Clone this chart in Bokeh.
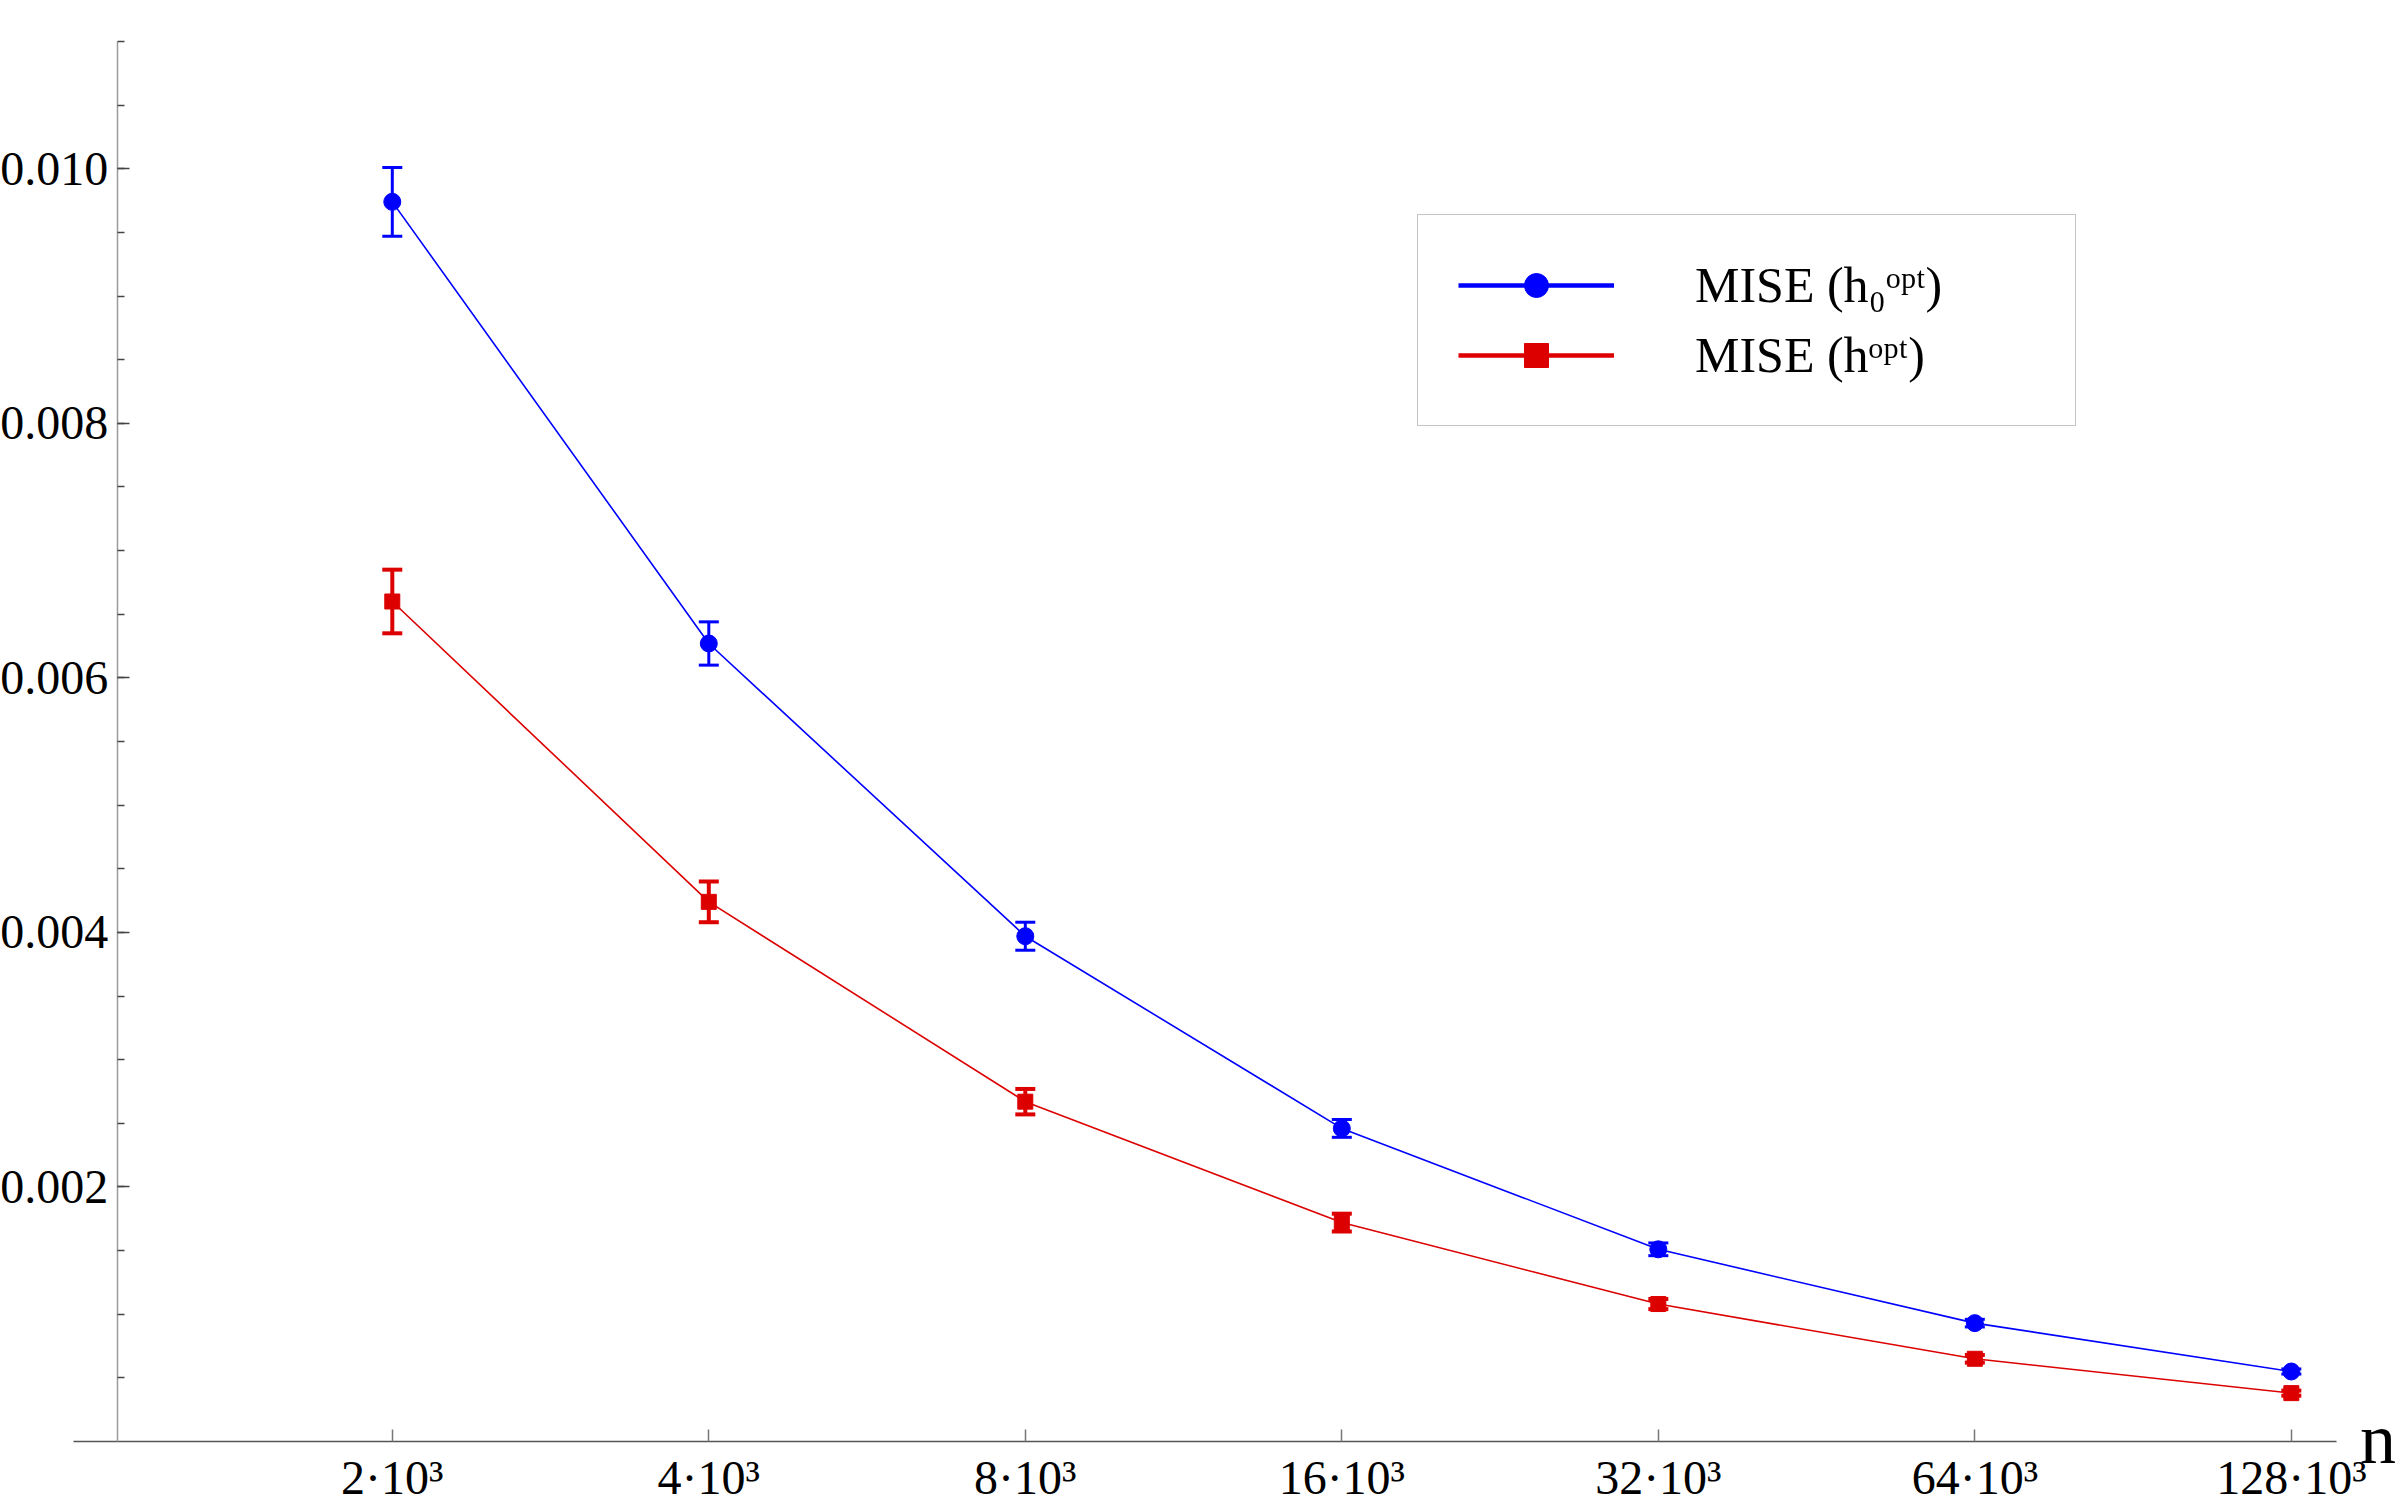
from bokeh.plotting import figure
from bokeh.models import (ColumnDataSource, FixedTicker, NumeralTickFormatter, Whisker,
                          TeeHead, Legend, LegendItem, Label, Range1d)
from bokeh.embed import file_html
from bokeh.resources import INLINE

# ---- data ----
n_values = [2000, 4000, 8000, 16000, 32000, 64000, 128000]
tick_labels = ["2·10³", "4·10³", "8·10³", "16·10³", "32·10³", "64·10³", "128·10³"]
mise_h0 = [0.00974, 0.00627, 0.00397, 0.00246, 0.00151, 0.00093, 0.00055]
err_h0 = [0.00027, 0.00017, 0.00011, 0.00007, 0.00005, 0.00003, 0.00002]
mise_h = [0.00660, 0.00424, 0.00267, 0.00172, 0.00108, 0.00065, 0.00038]
err_h = [0.00025, 0.00016, 0.00010, 0.00007, 0.00004, 0.00003, 0.00002]
y_major = [0.002, 0.004, 0.006, 0.008, 0.010]
y_minor = [0.0005 * k for k in range(1, 23)]
label_h0 = "MISE (h₀ᵒᵖᵗ)"
label_h = "MISE (hᵒᵖᵗ)"

BLUE = "#0000FF"
RED = "#DC0000"
FONT = "Liberation Serif"
NAN = float("nan")

src_b = ColumnDataSource(dict(n=n_values, y=mise_h0,
                              lo=[v - e for v, e in zip(mise_h0, err_h0)],
                              hi=[v + e for v, e in zip(mise_h0, err_h0)]))
src_r = ColumnDataSource(dict(n=n_values, y=mise_h,
                              lo=[v - e for v, e in zip(mise_h, err_h)],
                              hi=[v + e for v, e in zip(mise_h, err_h)]))

# The frame covers the whole canvas; the axes are placed at fixed locations
# and limited by their bounds, so tick labels and the "n" label are not clipped.
p = figure(frame_width=2396, frame_height=1508, x_axis_type="log",
           x_range=Range1d(848, 161150), y_range=Range1d(-0.0005264, 0.011322),
           output_backend="svg", toolbar_location=None,
           min_border_left=0, min_border_right=0, min_border_top=0,
           min_border_bottom=0)
p.grid.visible = False
p.outline_line_color = None
p.background_fill_color = "white"
p.border_fill_color = "white"

# x axis
xa = p.xaxis[0]
xa.fixed_location = 0
xa.bounds = (995, 141200)
xa.ticker = FixedTicker(ticks=n_values, minor_ticks=[])
xa.major_label_overrides = {n: t for n, t in zip(n_values, tick_labels)}
xa.axis_line_color = "#555555"
xa.axis_line_width = 1.5
xa.major_tick_line_color = "#777777"
xa.major_tick_line_width = 1.5
xa.major_tick_in = 12
xa.major_tick_out = 0
xa.minor_tick_line_color = None
xa.major_label_text_font = FONT
xa.major_label_text_font_size = "48px"
xa.major_label_text_color = "black"
xa.major_label_standoff = 9

# y axis
ya = p.yaxis[0]
ya.fixed_location = 1095
ya.bounds = (0, 0.011)
ya.ticker = FixedTicker(ticks=y_major, minor_ticks=y_minor)
ya.formatter = NumeralTickFormatter(format="0.000")
ya.axis_line_color = "#9a9a9a"
ya.axis_line_width = 1.5
ya.major_tick_line_color = "#444444"
ya.major_tick_line_width = 1.5
ya.minor_tick_line_color = "#444444"
ya.minor_tick_line_width = 1.5
ya.major_tick_in = 12
ya.major_tick_out = 0
ya.minor_tick_in = 7
ya.minor_tick_out = 0
ya.major_label_text_font = FONT
ya.major_label_text_font_size = "48px"
ya.major_label_text_color = "black"
ya.major_label_standoff = 9

# series
p.line("n", "y", source=src_b, line_color=BLUE, line_width=1.6)
p.line("n", "y", source=src_r, line_color=RED, line_width=1.6)

wb = Whisker(base="n", upper="hi", lower="lo", source=src_b, dimension="height",
             line_color=BLUE, line_width=3,
             upper_head=TeeHead(size=20, line_color=BLUE, line_width=3),
             lower_head=TeeHead(size=20, line_color=BLUE, line_width=3))
wr = Whisker(base="n", upper="hi", lower="lo", source=src_r, dimension="height",
             line_color=RED, line_width=4,
             upper_head=TeeHead(size=20, line_color=RED, line_width=4),
             lower_head=TeeHead(size=20, line_color=RED, line_width=4))
p.add_layout(wb)
p.add_layout(wr)

p.scatter("n", "y", source=src_b, marker="circle", size=17, color=BLUE)
p.scatter("n", "y", source=src_r, marker="square", size=15, color=RED)

# legend-only sample renderers (a single NaN row: nothing is drawn in the plot)
leg_src = ColumnDataSource(dict(x=[NAN], y=[NAN]))
lb_line = p.line("x", "y", source=leg_src, line_color=BLUE, line_width=4.5)
lb_dot = p.scatter("x", "y", source=leg_src, marker="circle", size=17, color=BLUE)
lr_line = p.line("x", "y", source=leg_src, line_color=RED, line_width=4.5)
lr_sq = p.scatter("x", "y", source=leg_src, marker="square", size=16, color=RED)

legend = Legend(items=[LegendItem(label=label_h0, renderers=[lb_line, lb_dot]),
                       LegendItem(label=label_h, renderers=[lr_line, lr_sq])],
                location=(1417, 1082), margin=0, padding=40,
                glyph_width=156, glyph_height=60, label_height=60, label_width=340,
                label_standoff=81, spacing=10,
                label_text_font=FONT, label_text_font_size="50px",
                label_text_color="black",
                border_line_color="#8c8c8c", border_line_width=1.5,
                background_fill_color="white", background_fill_alpha=1.0)
p.add_layout(legend)

# axis label "n" at the end of the x axis
p.add_layout(Label(x=148800, y=0.00002, text="n", text_font=FONT,
                   text_font_size="72px", text_align="left",
                   text_baseline="alphabetic", text_color="black"))

open("out.html", "w").write(file_html(p, INLINE))
